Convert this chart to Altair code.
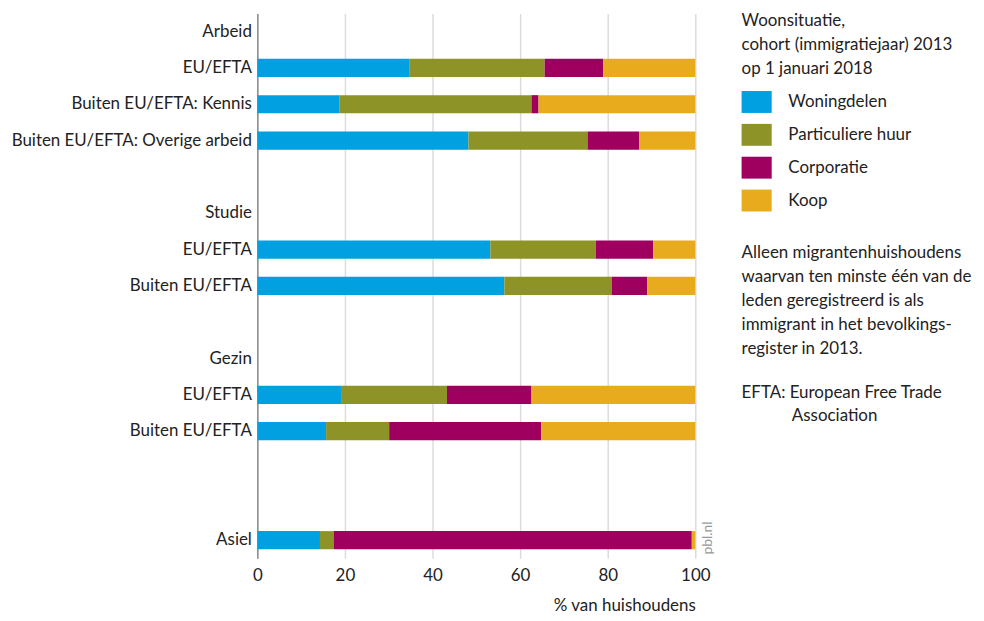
import altair as alt
import pandas as pd

# ---- data ----
row_labels = ["Arbeid", "EU/EFTA", "Buiten EU/EFTA: Kennis", "Buiten EU/EFTA: Overige arbeid", "",
              "Studie", "EU/EFTA", "Buiten EU/EFTA", "",
              "Gezin", "EU/EFTA", "Buiten EU/EFTA", "", "", "Asiel"]
bar_rows = [1, 2, 3, 6, 7, 10, 11, 14]
categories = ["Woningdelen", "Particuliere huur", "Corporatie", "Koop"]
woningdelen = [34.8, 18.8, 48.2, 53.2, 56.4, 19.3, 15.7, 14.3]
particuliere_huur = [30.8, 43.8, 27.2, 24.1, 24.5, 24.0, 14.4, 3.2]
corporatie = [13.4, 1.6, 11.8, 13.1, 8.1, 19.3, 34.7, 81.7]
koop = [21.0, 35.8, 12.8, 9.6, 11.0, 37.4, 35.2, 0.8]
colors = ["#00a0e1", "#8d9326", "#9f0060", "#e8ab1e"]
x_ticks = [0, 20, 40, 60, 80, 100]

legend_title = ["Woonsituatie,", "cohort (immigratiejaar) 2013", "op 1 januari 2018"]
note_lines = ["Alleen migrantenhuishoudens", "waarvan ten minste één van de",
              "leden geregistreerd is als", "immigrant in het bevolkings-", "register in 2013."]
efta_line1 = "EFTA: European Free Trade"
efta_line2 = "Association"
source = "pbl.nl"

FONT = "Lato"
FS = 17

series = [woningdelen, particuliere_huur, corporatie, koop]
records = []
for ci, (cat, vals) in enumerate(zip(categories, series)):
    for r, v in zip(bar_rows, vals):
        records.append({"row": r, "category": cat, "value": v, "order": ci})
df = pd.DataFrame(records)

label_expr = "[" + ",".join("'" + s + "'" for s in row_labels) + "][datum.value]"

bars = alt.Chart(df).mark_bar().encode(
    x=alt.X("value:Q", stack="zero",
            scale=alt.Scale(domain=[0, 100], nice=False),
            axis=alt.Axis(values=x_ticks, title="% van huishoudens", grid=True,
                          gridColor="#dcdcdc", gridWidth=1.5, domain=False, ticks=False,
                          labelFlush=False, labelPadding=9, labelFontSize=FS, labelFont=FONT,
                          labelColor="#222222", titleFont=FONT, titleFontSize=FS,
                          titleFontWeight="normal", titleColor="#222222", titleAnchor="end",
                          titlePadding=14)),
    y=alt.Y("row:O",
            scale=alt.Scale(domain=list(range(len(row_labels))), paddingInner=0.5, paddingOuter=0.25),
            axis=alt.Axis(labelExpr=label_expr, title=None, domain=True, domainColor="#8c8c8c",
                          domainWidth=1.5, ticks=False, grid=False, labelPadding=6,
                          labelFontSize=FS, labelFont=FONT, labelColor="#222222", labelLimit=400)),
    color=alt.Color("category:N",
                    scale=alt.Scale(domain=categories, range=colors),
                    legend=alt.Legend(orient="none", legendX=486.5, legendY=0,
                                      title=legend_title, titleFont=FONT, titleFontSize=FS,
                                      titleFontWeight="normal", titleColor="#222222",
                                      titleLineHeight=24, titlePadding=13, titleLimit=400,
                                      labelFont=FONT, labelFontSize=FS, labelColor="#222222",
                                      labelLimit=400, labelOffset=25,
                                      symbolType="M-1,-1H1.75V1H-1Z", symbolSize=484,
                                      symbolStrokeWidth=0, symbolOpacity=1, rowPadding=11,
                                      padding=0)),
    order=alt.Order("order:Q"),
)

anno = alt.Data(values=[{"a": 1}])

note = alt.Chart(anno).mark_text(align="left", baseline="top", font=FONT, fontSize=FS,
                                 lineHeight=24, color="#222222").encode(
    x=alt.value(486.5), y=alt.value(233), text=alt.value(note_lines))

efta1 = alt.Chart(anno).mark_text(align="left", baseline="top", font=FONT, fontSize=FS,
                                  color="#222222").encode(
    x=alt.value(486.5), y=alt.value(373), text=alt.value(efta_line1))
efta2 = alt.Chart(anno).mark_text(align="left", baseline="top", font=FONT, fontSize=FS,
                                  color="#222222").encode(
    x=alt.value(537), y=alt.value(396), text=alt.value(efta_line2))

pbl = alt.Chart(anno).mark_text(align="center", baseline="middle", font=FONT, fontSize=14,
                                angle=270, color="#999999").encode(
    x=alt.value(453), y=alt.value(527), text=alt.value(source))

chart = alt.layer(bars, note, efta1, efta2, pbl).properties(
    width=440, height=547.5,
    padding={"left": 250.5, "top": 4, "right": 282, "bottom": 60},
    autosize=alt.AutoSizeParams(type="none"),
).configure_view(stroke=None)

chart.save("out.html", embed_options={"renderer": "svg", "actions": False})
